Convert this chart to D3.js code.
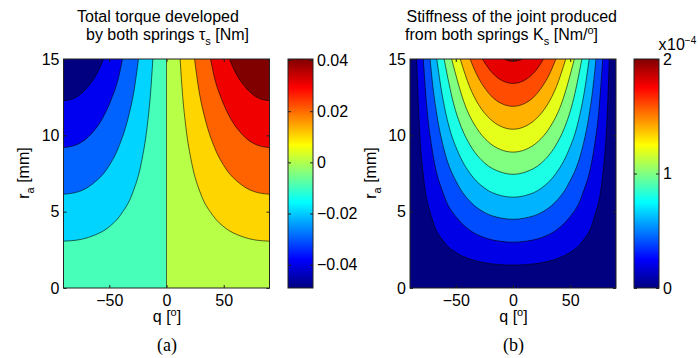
<!DOCTYPE html>
<html>
<head>
<meta charset="utf-8">
<script src="https://cdn.jsdelivr.net/npm/d3@7"></script>
<style>
  body { margin: 0; background: #fff; }
  svg { display: block; }
</style>
</head>
<body>
<svg id="chart" width="698" height="358"></svg>
<script>
// shared axes
const qDomain = [-90, 90];
const raDomain = [0, 15];
const qTicks = [-50, 0, 50];
const raTicks = [0, 5, 10, 15];

// (a) torque: lower edge of each filled band, Nm
const torqueLevels = [-0.04, -0.032, -0.024, -0.016, -0.008, 0, 0.008, 0.016, 0.024, 0.032];
// contour lines +0.008 .. +0.032 on the q > 0 side, [q deg, r_a mm]
// the q < 0 side is their mirror image (-0.008 .. -0.032)
const torqueCurve1 = [[11.9, 15], [14, 12.7], [17, 10.5], [22, 8.2], [30, 6.15], [40, 4.8], [52, 3.9], [65, 3.4], [78, 3.14], [90, 3.07]];
const torqueCurve2 = [[24.5, 15], [28, 13.1], [34, 11.0], [42, 9.2], [52, 7.8], [64, 6.85], [76, 6.33], [90, 6.14]];
const torqueCurve3 = [[38.5, 15], [42, 13.75], [48, 12.4], [56, 11.1], [66, 10.07], [78, 9.4], [90, 9.2]];
const torqueCurve4 = [[55, 15], [60, 14.15], [67, 13.33], [75, 12.7], [83, 12.36], [90, 12.27]];
const torqueBarRange = [-0.0491, 0.0404];
const torqueBarTicks = [-0.04, -0.02, 0, 0.02, 0.04];

// (b) stiffness: lower edge of each filled band, x1e-4 Nm/deg
const stiffLevels = [0, 0.2, 0.4, 0.6, 0.8, 1.0, 1.2, 1.4, 1.6, 1.8, 2.0];
// contour lines 0.2 .. 2.0, q >= 0 half of each U, [q deg, r_a mm]
const stiffCurve1 = [[0, 1.5], [11, 1.53], [25, 1.65], [37, 1.88], [48, 2.25], [60, 3.0], [70.5, 4.5], [78.5, 7.5], [81.8, 10.5], [84.2, 15]];
const stiffCurve2 = [[0, 3.0], [11, 3.06], [25, 3.3], [37, 3.75], [48, 4.5], [60, 6.0], [70.5, 9.0], [75, 11.6], [78.4, 15]];
const stiffCurve3 = [[0, 4.5], [11, 4.59], [25, 4.95], [37, 5.63], [48, 6.75], [60, 9.0], [66, 11.1], [70, 13.2], [72.5, 15]];
const stiffCurve4 = [[0, 5.95], [11, 6.06], [25, 6.55], [37, 7.45], [48, 8.9], [56, 10.6], [62, 12.7], [66.6, 15]];
const stiffCurve5 = [[0, 7.45], [11, 7.6], [25, 8.2], [37, 9.3], [45, 10.5], [52, 12.1], [60.2, 15]];
const stiffCurve6 = [[0, 8.9], [11, 9.07], [22, 9.6], [32, 10.5], [42, 12.0], [53.6, 15]];
const stiffCurve7 = [[0, 10.4], [11, 10.6], [20, 11.07], [30, 12.0], [38, 13.2], [46.1, 15]];
const stiffCurve8 = [[0, 11.9], [10, 12.08], [18, 12.5], [26, 13.24], [32, 14.03], [37.5, 15]];
const stiffCurve9 = [[0, 13.4], [8, 13.53], [15, 13.87], [21, 14.35], [26.7, 15]];
const stiffCurve10 = [[0, 14.85], [4, 14.89], [8.1, 15]];
const stiffBarRange = [0, 2];
const stiffBarTicks = [0, 1, 2];

const FONT = '"Liberation Sans", Arial, Helvetica, sans-serif';
const SERIF = '"Liberation Serif", "Times New Roman", serif';
const INK = '#222';

const plotTop = 59, plotH = 229, plotW = 206, barW = 25;

// matlab jet
const jet = d3.scaleLinear()
    .domain( [ 0, 0.125, 0.375, 0.625, 0.875, 1 ] )
    .range( [ '#000080', '#0000ff', '#00ffff', '#ffff00', '#ff0000', '#800000' ] )
    .clamp( true );

const svg = d3.select( '#chart' );
const defs = svg.append( 'defs' );

function frame( g, x, y ) {
    const bottom = y.range()[ 0 ], top = y.range()[ 1 ];
    const left = x.range()[ 0 ], right = x.range()[ 1 ];

    g.append( 'g' )
        .attr( 'transform', `translate(0, ${ bottom })` )
        .call( d3.axisBottom( x ).tickValues( qTicks ).tickSizeInner( -3 ).tickSizeOuter( 0 ).tickPadding( 7 ) );
    g.append( 'g' )
        .attr( 'transform', `translate(0, ${ top })` )
        .call( d3.axisTop( x ).tickValues( qTicks ).tickSizeInner( -3 ).tickSizeOuter( 0 ).tickFormat( '' ) );
    g.append( 'g' )
        .attr( 'transform', `translate(${ left }, 0)` )
        .call( d3.axisLeft( y ).tickValues( raTicks ).tickSizeInner( -3 ).tickSizeOuter( 0 ).tickPadding( 4 ) );
    g.append( 'g' )
        .attr( 'transform', `translate(${ right }, 0)` )
        .call( d3.axisRight( y ).tickValues( raTicks ).tickSizeInner( -3 ).tickSizeOuter( 0 ).tickFormat( '' ) );

    g.selectAll( '.domain' ).remove();
    g.selectAll( 'g' ).attr( 'font-size', 16 ).attr( 'font-family', FONT );
    g.selectAll( '.tick line' ).attr( 'stroke', INK );
    g.selectAll( '.tick text' ).attr( 'fill', '#000' );

    g.append( 'rect' )
        .attr( 'x', left ).attr( 'y', top )
        .attr( 'width', right - left ).attr( 'height', bottom - top )
        .attr( 'fill', 'none' )
        .attr( 'stroke', INK )
        .attr( 'stroke-width', 1 );
}

function colorbar( g, left, domain, ticks, fmt, id ) {
    const y = d3.scaleLinear().domain( domain ).range( [ plotTop + plotH, plotTop ] );

    const grad = defs.append( 'linearGradient' )
        .attr( 'id', id )
        .attr( 'x1', 0 ).attr( 'y1', 1 ).attr( 'x2', 0 ).attr( 'y2', 0 );
    grad.selectAll( 'stop' )
        .data( d3.range( 0, 65 ).map( i => i / 64 ) )
        .enter()
        .append( 'stop' )
        .attr( 'offset', d => d )
        .attr( 'stop-color', d => jet( d ) );

    g.append( 'rect' )
        .attr( 'x', left ).attr( 'y', plotTop )
        .attr( 'width', barW ).attr( 'height', plotH )
        .attr( 'fill', `url(#${ id })` )
        .attr( 'stroke', INK );

    g.append( 'g' )
        .attr( 'transform', `translate(${ left }, 0)` )
        .call( d3.axisLeft( y ).tickValues( ticks ).tickSizeInner( -3 ).tickSizeOuter( 0 ).tickFormat( '' ) );
    g.append( 'g' )
        .attr( 'transform', `translate(${ left + barW }, 0)` )
        .call( d3.axisRight( y ).tickValues( ticks ).tickSizeInner( -3 ).tickSizeOuter( 0 ).tickPadding( 4 ).tickFormat( fmt ) );

    g.selectAll( '.domain' ).remove();
    g.selectAll( 'g' ).attr( 'font-size', 16 ).attr( 'font-family', FONT );
    g.selectAll( '.tick line' ).attr( 'stroke', INK );
    g.selectAll( '.tick text' ).attr( 'fill', '#000' );
}

function clipTo( id, x, y ) {
    defs.append( 'clipPath' ).attr( 'id', id )
        .append( 'rect' )
        .attr( 'x', x.range()[ 0 ] ).attr( 'y', y.range()[ 1 ] )
        .attr( 'width', x.range()[ 1 ] - x.range()[ 0 ] )
        .attr( 'height', y.range()[ 0 ] - y.range()[ 1 ] );
}

const mirror = pts => pts.map( ( [ q, r ] ) => [ -q, r ] ).reverse();

// ---------- (a) torque ----------
{
    const x = d3.scaleLinear().domain( qDomain ).range( [ 63.5, 63.5 + plotW ] );
    const y = d3.scaleLinear().domain( raDomain ).range( [ plotTop + plotH, plotTop ] );
    const fill = d3.scaleLinear()
        .domain( [ torqueLevels[ 0 ], torqueLevels[ torqueLevels.length - 1 ] ] )
        .range( [ 0, 1 ] );
    const color = v => jet( fill( v ) );
    const line = d3.line().x( d => x( d[ 0 ] ) ).y( d => y( d[ 1 ] ) ).curve( d3.curveMonotoneX );
    const curves = [ torqueCurve1, torqueCurve2, torqueCurve3, torqueCurve4 ];

    clipTo( 'clipA', x, y );
    const g = svg.append( 'g' ).attr( 'clip-path', 'url(#clipA)' );

    // base bands either side of the zero contour
    g.append( 'rect' )
        .attr( 'x', x( qDomain[ 0 ] ) ).attr( 'y', y( raDomain[ 1 ] ) )
        .attr( 'width', x( 0 ) - x( qDomain[ 0 ] ) ).attr( 'height', y( raDomain[ 0 ] ) - y( raDomain[ 1 ] ) )
        .attr( 'fill', color( torqueLevels[ 4 ] ) );
    g.append( 'rect' )
        .attr( 'x', x( 0 ) ).attr( 'y', y( raDomain[ 1 ] ) )
        .attr( 'width', x( qDomain[ 1 ] ) - x( 0 ) ).attr( 'height', y( raDomain[ 0 ] ) - y( raDomain[ 1 ] ) )
        .attr( 'fill', color( torqueLevels[ 5 ] ) );

    curves.forEach( ( c, i ) => {
        g.append( 'path' )
            .attr( 'd', line( c ) + `L${ x( qDomain[ 1 ] ) },${ y( raDomain[ 1 ] ) }Z` )
            .attr( 'fill', color( torqueLevels[ 6 + i ] ) );
        g.append( 'path' )
            .attr( 'd', line( mirror( c ) ) + `L${ x( qDomain[ 0 ] ) },${ y( raDomain[ 1 ] ) }Z` )
            .attr( 'fill', color( torqueLevels[ 3 - i ] ) );
    } );

    const lines = g.append( 'g' )
        .attr( 'fill', 'none' )
        .attr( 'stroke', '#000' )
        .attr( 'stroke-opacity', 0.85 )
        .attr( 'stroke-width', 0.7 );
    curves.forEach( c => {
        lines.append( 'path' ).attr( 'd', line( c ) );
        lines.append( 'path' ).attr( 'd', line( mirror( c ) ) );
    } );
    lines.append( 'path' ).attr( 'd', d3.line()( [ [ x( 0 ), y( raDomain[ 0 ] ) ], [ x( 0 ), y( raDomain[ 1 ] ) ] ] ) );

    frame( svg.append( 'g' ), x, y );
    colorbar( svg.append( 'g' ), 288, torqueBarRange, torqueBarTicks,
        d => d === 0 ? '0' : d3.format( '.2f' )( d ), 'gradA' );
}

// ---------- (b) stiffness ----------
{
    const x = d3.scaleLinear().domain( qDomain ).range( [ 410, 410 + plotW ] );
    const y = d3.scaleLinear().domain( raDomain ).range( [ plotTop + plotH, plotTop ] );
    const fill = d3.scaleLinear()
        .domain( [ stiffLevels[ 0 ], stiffLevels[ stiffLevels.length - 1 ] ] )
        .range( [ 0, 1 ] );
    const color = v => jet( fill( v ) );
    const line = d3.line().x( d => x( d[ 0 ] ) ).y( d => y( d[ 1 ] ) ).curve( d3.curveMonotoneX );
    const curves = [ stiffCurve1, stiffCurve2, stiffCurve3, stiffCurve4, stiffCurve5,
        stiffCurve6, stiffCurve7, stiffCurve8, stiffCurve9, stiffCurve10 ];
    const whole = c => mirror( c ).slice( 0, -1 ).concat( c );

    clipTo( 'clipB', x, y );
    const g = svg.append( 'g' ).attr( 'clip-path', 'url(#clipB)' );

    g.append( 'rect' )
        .attr( 'x', x( qDomain[ 0 ] ) ).attr( 'y', y( raDomain[ 1 ] ) )
        .attr( 'width', x( qDomain[ 1 ] ) - x( qDomain[ 0 ] ) ).attr( 'height', y( raDomain[ 0 ] ) - y( raDomain[ 1 ] ) )
        .attr( 'fill', color( stiffLevels[ 0 ] ) );

    curves.forEach( ( c, i ) => {
        g.append( 'path' )
            .attr( 'd', line( whole( c ) ) + 'Z' )
            .attr( 'fill', color( stiffLevels[ i + 1 ] ) );
    } );

    const lines = g.append( 'g' )
        .attr( 'fill', 'none' )
        .attr( 'stroke', '#000' )
        .attr( 'stroke-opacity', 0.85 )
        .attr( 'stroke-width', 0.7 );
    curves.forEach( c => lines.append( 'path' ).attr( 'd', line( whole( c ) ) ) );

    frame( svg.append( 'g' ), x, y );
    colorbar( svg.append( 'g' ), 634, stiffBarRange, stiffBarTicks, d3.format( 'd' ), 'gradB' );
}

// ---------- text ----------
// parts: { t, sub, sup, size }
function richText( g, x, y, parts, opts ) {
    const t = g.append( 'text' )
        .attr( 'x', x ).attr( 'y', y )
        .attr( 'font-family', FONT )
        .attr( 'font-size', 16 )
        .attr( 'fill', '#000' );
    if( opts && opts.anchor ) t.attr( 'text-anchor', opts.anchor );
    if( opts && opts.transform ) t.attr( 'transform', opts.transform );
    let shift = 0;
    parts.forEach( p => {
        const target = p.sub ? 5 : p.sup ? -6 : 0;
        const s = t.append( 'tspan' ).text( p.t ).attr( 'dy', target - shift );
        if( p.sub || p.sup ) s.attr( 'font-size', p.size || 11 );
        if( p.dx ) s.attr( 'dx', p.dx );
        shift = target;
    } );
    return t;
}

richText( svg, 77, 21.5, [ { t: 'Total torque developed' } ] );
richText( svg, 86, 39.5, [ { t: 'by both springs τ' }, { t: 's', sub: true }, { t: ' [Nm]' } ] );
richText( svg, 406.5, 21.5, [ { t: 'Stiffness of the joint produced' } ] );
richText( svg, 405, 39.5, [ { t: 'from both springs K' }, { t: 's', sub: true }, { t: ' [Nm/' }, { t: 'o', sup: true }, { t: ']' } ] );

[ 0, 346.5 ].forEach( dx => {
    richText( svg, 0, 0, [ { t: 'r' }, { t: 'a', sub: true }, { t: ' [mm]' } ],
        { anchor: 'middle', transform: `translate(${ 29 + dx }, 173) rotate(-90)` } );
    richText( svg, 167 + dx, 322, [ { t: 'q [' }, { t: 'o', sup: true }, { t: ']' } ], { anchor: 'middle' } );
} );

svg.append( 'text' ).attr( 'x', 167 ).attr( 'y', 351 ).attr( 'text-anchor', 'middle' )
    .attr( 'font-family', SERIF ).attr( 'font-size', 18 ).text( '(a)' );
svg.append( 'text' ).attr( 'x', 513.5 ).attr( 'y', 351 ).attr( 'text-anchor', 'middle' )
    .attr( 'font-family', SERIF ).attr( 'font-size', 18 ).text( '(b)' );

// colorbar multiplier
richText( svg, 658.5, 50, [ { t: 'x' }, { t: '10', dx: 0.5 }, { t: '\u22124', sup: true, size: 10 } ] );
</script>
</body>
</html>
